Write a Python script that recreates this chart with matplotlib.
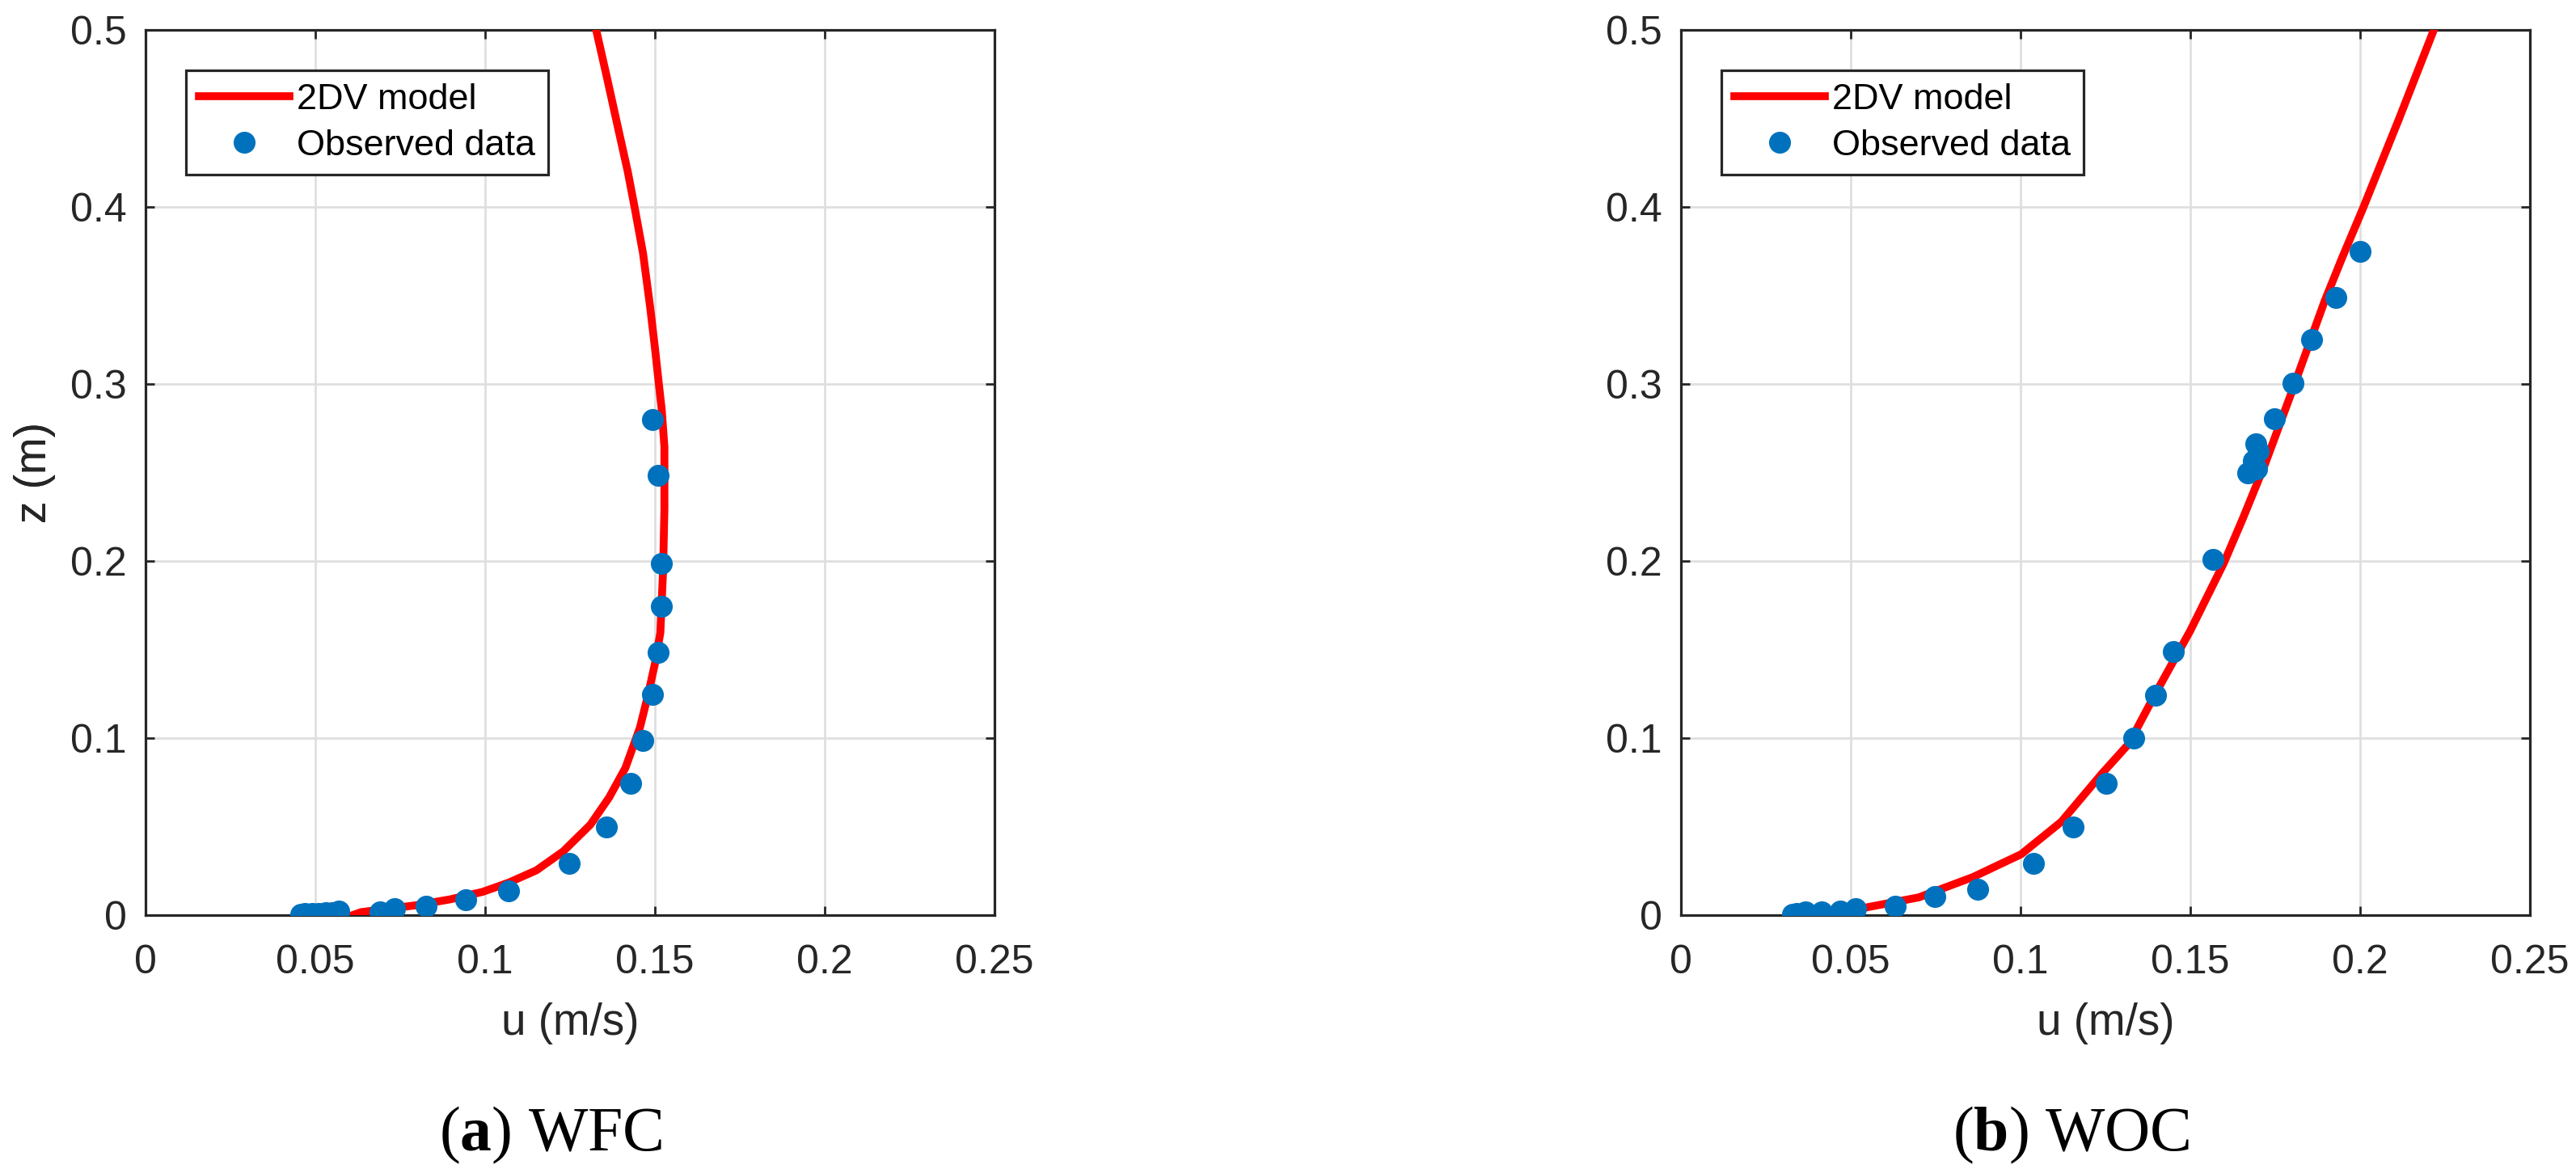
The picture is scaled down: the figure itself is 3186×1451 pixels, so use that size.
import numpy as np
import matplotlib
matplotlib.use('Agg')
import matplotlib.pyplot as plt
from matplotlib.ticker import FuncFormatter

plt.rcParams['font.family'] = ['Liberation Sans', 'DejaVu Sans']
plt.rcParams['mathtext.fontset'] = 'custom'
plt.rcParams['mathtext.rm'] = 'Liberation Serif'
plt.rcParams['mathtext.bf'] = 'Liberation Serif:bold'

# ── (a) WFC: 2DV model profile and observed data ──────────────────────
wfc_model_u = [0.061, 0.0635, 0.0794, 0.0897, 0.0992, 0.107, 0.1151, 0.123, 0.131,
               0.1365, 0.1413, 0.1456, 0.148, 0.150, 0.1516, 0.1524, 0.1528, 0.1528,
               0.152, 0.1512, 0.1500, 0.1486, 0.1465, 0.1441, 0.1420, 0.1391, 0.1360, 0.1327]
wfc_model_z = [0.0, 0.0017, 0.0055, 0.0089, 0.0131, 0.0184, 0.0253, 0.036, 0.0511,
               0.0664, 0.0831, 0.106, 0.1246, 0.142, 0.1595, 0.1945, 0.2294, 0.2644,
               0.2856, 0.2993, 0.3205, 0.3434, 0.3738, 0.399, 0.420, 0.445, 0.472, 0.5]

wfc_obs_u = [0.0457, 0.047, 0.049, 0.051, 0.053, 0.055, 0.057, 0.069, 0.0734, 0.0825,
             0.0942, 0.1069, 0.1248, 0.1356, 0.1429, 0.1464, 0.1492, 0.1510, 0.1518,
             0.1518, 0.1510, 0.1492]
wfc_obs_z = [0.0005, 0.001, 0.0008, 0.001, 0.0012, 0.0015, 0.0025, 0.0017, 0.0037, 0.0052,
             0.0085, 0.0138, 0.0294, 0.050, 0.0743, 0.0986, 0.1246, 0.1485, 0.1743,
             0.1988, 0.2486, 0.2801]

# ── (b) WOC ───────────────────────────────────────────────────────────
woc_model_u = [0.050, 0.0542, 0.070, 0.086, 0.1002, 0.112, 0.124, 0.1319, 0.1399,
               0.1500, 0.1598, 0.1655, 0.1720, 0.1795, 0.1895, 0.1946, 0.2009, 0.2115, 0.2217]
woc_model_z = [0.0, 0.0042, 0.010, 0.0215, 0.0344, 0.0527, 0.080, 0.0968, 0.1257,
               0.1607, 0.1986, 0.2242, 0.2548, 0.2936, 0.3466, 0.3708, 0.3995, 0.450, 0.5]

woc_obs_u = [0.0328, 0.034, 0.0367, 0.0415, 0.0469, 0.0514, 0.0631, 0.0748, 0.0874,
             0.1037, 0.1155, 0.1253, 0.1334, 0.1398, 0.1451, 0.1566, 0.167, 0.1695,
             0.1685, 0.170, 0.1693, 0.1748, 0.1802, 0.1857, 0.1929, 0.2001]
woc_obs_z = [0.0005, 0.001, 0.0016, 0.002, 0.0025, 0.0035, 0.0052, 0.0104, 0.0145,
             0.0294, 0.0499, 0.0743, 0.1002, 0.1242, 0.1487, 0.2008, 0.250, 0.252,
             0.2568, 0.262, 0.266, 0.2802, 0.3006, 0.325, 0.349, 0.375]

x_ticks = [0, 0.05, 0.1, 0.15, 0.2, 0.25]
y_ticks = [0, 0.1, 0.2, 0.3, 0.4, 0.5]

PANELS = [
    (wfc_model_u, wfc_model_z, wfc_obs_u, wfc_obs_z, r'($\mathbf{a}$) WFC'),
    (woc_model_u, woc_model_z, woc_obs_u, woc_obs_z, r'($\mathbf{b}$) WOC'),
]

DARK = '#262626'
RED = '#FF0000'
BLUE = '#0072BD'

W, H = 3186, 1451
fig = plt.figure(figsize=(W / 100, H / 100), dpi=100)

ax_left_px = [180, 2079]
ax_w_px, ax_top_px, ax_bot_px = 1050, 37, 1132
caption_x_px = [681, 2562]

for i, (mu, mz, ou, oz, caption) in enumerate(PANELS):
    ax = fig.add_axes([ax_left_px[i] / W, (H - ax_bot_px) / H,
                       ax_w_px / W, (ax_bot_px - ax_top_px) / H])

    ax.plot(mu, mz, '-', color=RED, linewidth=7, label='2DV model', zorder=3)
    ax.plot(ou, oz, 'o', color=BLUE, markersize=19.5, markeredgewidth=0,
            label='Observed data', zorder=4)

    ax.set_xlim(0, 0.25)
    ax.set_ylim(0, 0.5)
    ax.set_xticks(x_ticks)
    ax.set_yticks(y_ticks)
    ax.xaxis.set_major_formatter(FuncFormatter(lambda v, p: f'{v:g}'))
    ax.yaxis.set_major_formatter(FuncFormatter(lambda v, p: f'{v:g}'))

    ax.grid(True, color='#dedede', linewidth=1.9)
    ax.set_axisbelow(True)
    for sp in ax.spines.values():
        sp.set_color(DARK)
        sp.set_linewidth(2.3)
    ax.tick_params(direction='in', length=8, width=2.0, color=DARK,
                   top=True, right=True, labelsize=36, labelcolor=DARK)
    ax.tick_params(axis='x', pad=26)
    ax.tick_params(axis='y', pad=17)

    ax.set_xlabel('u (m/s)', fontsize=39.5, color=DARK)
    ax.set_ylabel('z (m)', fontsize=39.5, color=DARK)
    ax.xaxis.label.set_va('center')
    ax.yaxis.label.set_va('center')
    ax.xaxis.set_label_coords(0.5, -(1266 - ax_bot_px) / (ax_bot_px - ax_top_px))
    ax.yaxis.set_label_coords((43 - ax_left_px[i]) / ax_w_px, 0.5)

    leg = ax.legend(loc='upper left',
                    bbox_to_anchor=(50 / ax_w_px, 1 - 50 / (ax_bot_px - ax_top_px)),
                    borderaxespad=0, fontsize=32.4, handlelength=2.5,
                    handletextpad=0.2, labelspacing=0.35, borderpad=0.35,
                    fancybox=False, framealpha=1, edgecolor=DARK)
    leg.get_frame().set_linewidth(2.3)

    fig.text(caption_x_px[i] / W, (H - 1423) / H, caption, ha='center',
             va='baseline', fontsize=56, family='Liberation Serif', color='black')

fig.savefig('out.png', dpi=100)
